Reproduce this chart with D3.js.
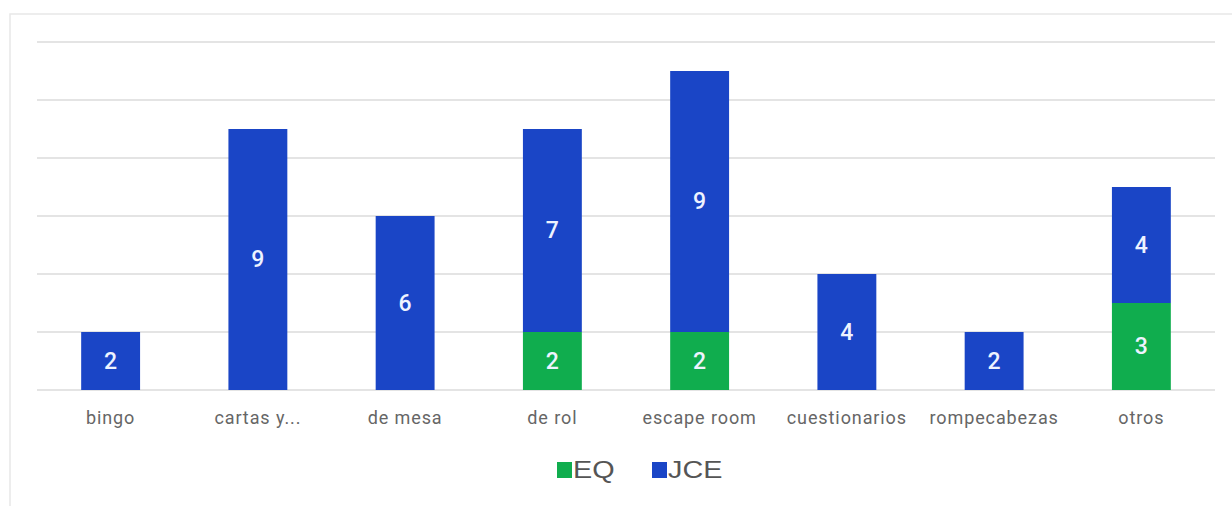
<!DOCTYPE html>
<html>
<head>
<meta charset="utf-8">
<script src="https://cdn.jsdelivr.net/npm/d3@7"></script>
<style>
  body { margin: 0; background: #fff; }
</style>
</head>
<body>
<div id="chart"></div>
<script>
// categories and stacked series
const categories = ["bingo", "cartas y...", "de mesa", "de rol", "escape room", "cuestionarios", "rompecabezas", "otros"];
const seriesNames = ["EQ", "JCE"];
const eqValues = [0, 0, 0, 2, 2, 0, 0, 3];
const jceValues = [2, 9, 6, 7, 9, 4, 2, 4];
const gridTicks = [0, 2, 4, 6, 8, 10, 12];

const width = 1232;
const height = 506;
const colours = { EQ: "#10ad4e", JCE: "#1a45c6" };

const svg = d3
  .select("#chart")
  .append("svg")
  .attr("width", width)
  .attr("height", height)
  .style("display", "block");

// light frame round the chart
svg
  .append("rect")
  .attr("x", 10)
  .attr("y", 14)
  .attr("width", width)
  .attr("height", height)
  .attr("fill", "none")
  .attr("stroke", "#e8e8e8")
  .attr("stroke-width", 1.5);

const margin = { top: 42, right: 17, bottom: 116, left: 37 };

const x = d3
  .scaleBand()
  .domain(categories)
  .range([margin.left, width - margin.right])
  .paddingInner(0.6)
  .paddingOuter(0.3);

const y = d3
  .scaleLinear()
  .domain([0, 12])
  .range([height - margin.bottom, margin.top]);

// gridlines
svg
  .append("g")
  .selectAll("line")
  .data(gridTicks)
  .enter()
  .append("line")
  .attr("x1", margin.left)
  .attr("x2", width - margin.right)
  .attr("y1", (d) => y(d))
  .attr("y2", (d) => y(d))
  .attr("stroke", "#e4e4e4")
  .attr("stroke-width", 2);

// stack the data
const rows = categories.map((c, i) => ({ cat: c, EQ: eqValues[i], JCE: jceValues[i] }));
const stacked = d3.stack().keys(seriesNames)(rows);

const layers = svg
  .append("g")
  .selectAll("g")
  .data(stacked)
  .enter()
  .append("g")
  .attr("fill", (d) => colours[d.key]);

layers
  .selectAll("rect")
  .data((d) => d)
  .enter()
  .append("rect")
  .attr("x", (d) => x(d.data.cat))
  .attr("y", (d) => y(d[1]))
  .attr("width", x.bandwidth())
  .attr("height", (d) => y(d[0]) - y(d[1]));

// value labels inside segments
layers
  .selectAll("text")
  .data((d) => d.filter((s) => s[1] - s[0] > 0))
  .enter()
  .append("text")
  .attr("x", (d) => x(d.data.cat) + x.bandwidth() / 2)
  .attr("y", (d) => (y(d[0]) + y(d[1])) / 2)
  .attr("text-anchor", "middle")
  .attr("dominant-baseline", "central")
  .style("font-family", "Roboto, sans-serif")
  .style("font-weight", "500")
  .style("font-size", "23px")
  .style("fill", "#eef3ff")
  .text((d) => d[1] - d[0]);

// category axis labels
const xAxis = svg
  .append("g")
  .attr("transform", `translate(0, ${y(0)})`)
  .call(d3.axisBottom(x).tickSize(0).tickPadding(21));
xAxis.select(".domain").remove();
xAxis
  .selectAll("text")
  .style("font-family", "Roboto, sans-serif")
  .style("font-size", "18px")
  .style("letter-spacing", "0.9px")
  .style("fill", "#666");

// legend (text is a bit wide in the original, so stretch it sideways)
const legend = svg.append("g").attr("transform", "translate(557, 462)");
const legendX = [0, 95];
seriesNames.forEach((name, i) => {
  legend
    .append("rect")
    .attr("x", legendX[i])
    .attr("y", 0)
    .attr("width", 15)
    .attr("height", 16)
    .attr("fill", colours[name]);
  legend
    .append("text")
    .attr("transform", `translate(${legendX[i] + 16}, 16) scale(1.2, 1)`)
    .style("font-family", "'Liberation Sans', Arial, sans-serif")
    .style("font-size", "24px")
    .style("fill", "#555")
    .text(name);
});
</script>
</body>
</html>
